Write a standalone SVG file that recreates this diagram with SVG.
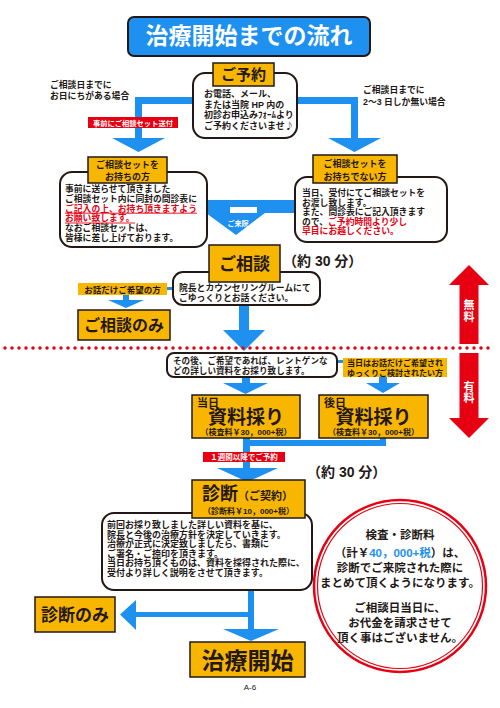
<svg xmlns="http://www.w3.org/2000/svg" width="500" height="708" viewBox="0 0 500 708">
<style>
.box{fill:#f9b600;stroke:#231815;stroke-width:1.5}
.lbl{fill:#f9b600}
.bub{fill:#fff;stroke:#231815;stroke-width:2}
.bl{fill:#1e90f0}
.rd{fill:#e60012}
.t{font-family:"Liberation Sans","Noto Sans CJK JP",sans-serif;font-weight:bold;fill:#231815}
.wt{fill:#fff}
.m{text-anchor:middle}
.rt{fill:#e60012}
.bt{fill:#1e90f0}
.cj{font-family:"Noto Sans CJK JP",sans-serif}
</style>
<rect width="500" height="708" fill="#fff"/>

<g id="connectors">
  <rect class="bl" x="135" y="97" width="60" height="7"/>
  <rect class="bl" x="135" y="97" width="7" height="42"/>
  <polygon class="bl" points="112,138 165,138 138.5,152"/>
  <rect class="bl" x="295" y="97" width="63" height="7"/>
  <rect class="bl" x="351" y="97" width="7" height="42"/>
  <polygon class="bl" points="328,138 381,138 354.5,152"/>
  <rect class="bl" x="207" y="200" width="88" height="13"/>
  <rect fill="#fff" x="230" y="207" width="27" height="6"/>
  <polygon class="bl" points="206,213 265,213 236,235"/>
  <rect class="bl" x="167" y="287" width="6" height="3"/>
  <rect class="bl" x="123" y="295" width="6" height="5"/>
  <polygon class="bl" points="108,300 144,300 126,308"/>
  <rect class="bl" x="239" y="305" width="10" height="26"/>
  <polygon class="bl" points="223,330 265,330 244,351"/>
  <rect class="bl" x="337" y="360" width="6" height="3"/>
  <rect class="bl" x="242" y="377" width="8" height="7"/>
  <polygon class="bl" points="223,383 268,383 245.5,394"/>
  <rect class="bl" x="379" y="377" width="8" height="7"/>
  <polygon class="bl" points="366,383 400,383 383,393"/>
  <rect class="bl" x="243" y="438" width="7" height="31"/>
  <rect class="bl" x="380" y="438" width="6" height="8"/>
  <rect class="bl" x="243" y="440" width="143" height="6"/>
  <polygon class="bl" points="217,468 278,468 247.5,482"/>
  <rect class="bl" x="248" y="590" width="6" height="40"/>
  <rect class="bl" x="135" y="612" width="119" height="5"/>
  <polygon class="bl" points="120,614.5 136,600 136,630"/>
  <polygon class="bl" points="223,629 279,629 251,641"/>
  <line x1="5" y1="348" x2="492" y2="348" stroke="#e60012" stroke-width="3.5" stroke-dasharray="0 7" stroke-linecap="round"/>
</g>

<g id="title">
  <rect x="128" y="17" width="242" height="39" rx="6" fill="#1e90f0" stroke="#231815" stroke-width="2"/>
  <text class="t m wt" x="249" y="44" font-size="23">治療開始までの流れ</text>
</g>

<g id="note-left">
  <text class="t" font-size="8.8"><tspan x="50" y="88">ご相談日までに</tspan><tspan x="50" y="99">お日にちがある場合</tspan></text>
</g>
<g id="note-right">
  <text class="t" font-size="8.8"><tspan x="363" y="93">ご相談日までに</tspan><tspan x="363" y="105">2～3 日しか無い場合</tspan></text>
</g>

<g id="send-set">
  <rect class="rd" x="88" y="117" width="90" height="11"/>
  <text class="t m wt" x="133" y="125.5" font-size="7.3">事前にご相談セット送付</text>
</g>

<g id="reservation">
  <rect class="bub" x="193" y="73" width="104" height="65" rx="12"/>
  <rect class="box" x="213" y="63" width="61" height="23"/>
  <text class="t m" x="243.5" y="80" font-size="15">ご予約</text>
  <text class="t" font-size="9"><tspan x="204" y="97">お電話、メール、</tspan><tspan x="204" y="107.5">または当院 HP 内の</tspan><tspan x="204" y="118">初診お申込みﾌｫｰﾑより</tspan><tspan x="204" y="128.5">ご予約くださいませ</tspan><tspan class="cj">♪</tspan></text>
</g>

<g id="with-set">
  <rect class="bub" x="60" y="172" width="147" height="75" rx="12"/>
  <rect class="box" x="88" y="157" width="79" height="26"/>
  <text class="t m" font-size="9"><tspan x="127.5" y="168">ご相談セットを</tspan><tspan x="127.5" y="180">お持ちの方</tspan></text>
  <text class="t" font-size="8.8"><tspan x="65" y="192">事前に送らせて頂きました</tspan><tspan x="65" y="201.8">ご相談セット内に同封の問診表に</tspan><tspan x="65" y="211.6" class="rt">ご記入の上、お持ち頂きますよう</tspan><tspan x="65" y="221.4" class="rt">お願い致します。</tspan><tspan x="65" y="231.2">なおご相談セットは、</tspan><tspan x="65" y="241">皆様に差し上げております。</tspan></text>
  <line x1="65" y1="213.2" x2="197" y2="213.2" stroke="#e60012" stroke-width="0.9"/>
  <line x1="65" y1="223" x2="135" y2="223" stroke="#e60012" stroke-width="0.9"/>
</g>

<g id="without-set">
  <rect class="bub" x="295" y="177" width="152" height="65" rx="12"/>
  <rect class="box" x="313" y="155" width="84" height="28"/>
  <text class="t m" font-size="9"><tspan x="355" y="167">ご相談セットを</tspan><tspan x="355" y="180">お持ちでない方</tspan></text>
  <text class="t" font-size="8.8"><tspan x="302" y="196">当日、受付にてご相談セットを</tspan><tspan x="302" y="205.5">お渡し致します。</tspan><tspan x="302" y="215">また、問診表にご記入頂きます</tspan><tspan x="302" y="224.5">ので、</tspan><tspan class="rt">ご予約時間より少し</tspan><tspan x="302" y="234" class="rt">早目にお越しください。</tspan></text>
</g>

<g id="visit-label">
  <text class="t m wt" x="238" y="226" font-size="7">ご来院</text>
</g>

<g id="consultation">
  <rect class="bub" x="173" y="272" width="147" height="33" rx="10"/>
  <rect class="box" x="209" y="245" width="71" height="37"/>
  <text class="t m" x="244.5" y="270" font-size="17">ご相談</text>
  <text class="t" font-size="8.8"><tspan x="179" y="291">院長とカウンセリングルームにて</tspan><tspan x="179" y="301">ごゆっくりとお話ください。</tspan></text>
  <text class="t" x="283" y="266" font-size="14">（約 30 分）</text>
</g>

<g id="talk-only-label">
  <rect class="lbl" x="78" y="283" width="89" height="12"/>
  <text class="t m" x="122.5" y="292.5" font-size="8.5">お話だけご希望の方</text>
</g>

<g id="consult-only">
  <rect class="box" x="78" y="310" width="92" height="30"/>
  <text class="t m" x="124" y="331" font-size="16">ご相談のみ</text>
</g>

<g id="free-paid">
  <polygon class="rd" points="469,265 489,285 478.5,285 478.5,344 459.5,344 459.5,285 449,285"/>
  <polygon class="rd" points="469,438 489,418 478.5,418 478.5,353 459.5,353 459.5,418 449,418"/>
  <text class="t wt m" x="469 469" y="309 321" font-size="11">無料</text>
  <text class="t wt m" x="469 469" y="391 402" font-size="11">有料</text>
</g>

<g id="xray">
  <rect class="bub" x="167" y="353" width="170" height="24" rx="7"/>
  <text class="t" font-size="8.6"><tspan x="173" y="364">その後、ご希望であれば、レントゲンな</tspan><tspan x="173" y="374">どの詳しい資料をお採り致します。</tspan></text>
</g>

<g id="later-label">
  <rect class="lbl" x="343" y="358" width="104" height="19"/>
  <text class="t m" font-size="8"><tspan x="395" y="366">当日はお話だけご希望され</tspan><tspan x="395" y="375.5">ゆっくりご検討されたい方</tspan></text>
</g>

<g id="same-day">
  <rect class="box" x="192" y="395" width="108" height="43"/>
  <text class="t"><tspan x="197" y="407" font-size="11">当日</tspan><tspan x="246" y="424" font-size="19" text-anchor="middle">資料採り</tspan><tspan x="246" y="435" font-size="8" text-anchor="middle">（検査料￥30，000+税）</tspan></text>
</g>

<g id="later-day">
  <rect class="box" x="319" y="395" width="109" height="43"/>
  <text class="t"><tspan x="324" y="407" font-size="11">後日</tspan><tspan x="373.5" y="424" font-size="19" text-anchor="middle">資料採り</tspan><tspan x="373.5" y="435" font-size="8" text-anchor="middle">（検査料￥30，000+税）</tspan></text>
</g>

<g id="week-label">
  <rect class="rd" x="203" y="452" width="82" height="10"/>
  <text class="t m wt" x="244" y="460" font-size="7.5">１週間以降でご予約</text>
  <text class="t" x="307" y="477" font-size="14">（約 30 分）</text>
</g>

<g id="diagnosis">
  <rect class="bub" x="102" y="513" width="210" height="77" rx="12"/>
  <rect class="box" x="192" y="480" width="113" height="38"/>
  <text class="t"><tspan x="202" y="500" font-size="18">診断</tspan><tspan font-size="11">（ご契約）</tspan><tspan x="248.5" y="514" font-size="8" text-anchor="middle">（診断料￥10，000+税）</tspan></text>
  <text class="t" font-size="9"><tspan x="107" y="528">前回お採り致しました詳しい資料を基に、</tspan><tspan x="107" y="537.6">院長と今後の治療方針を決定していきます。</tspan><tspan x="107" y="547.2">治療が正式に決定致しましたら、書類に</tspan><tspan x="107" y="556.8">ご署名・ご捺印を頂きます。</tspan><tspan x="107" y="566.4">当日お持ち頂くものは、資料を採得された際に、</tspan><tspan x="107" y="576">受付より詳しく説明をさせて頂きます。</tspan></text>
</g>

<g id="fee-note">
  <circle cx="400" cy="586" r="86" fill="#fff" stroke="#e60012" stroke-width="2.5"/>
  <circle cx="400" cy="586" r="82.5" fill="none" stroke="#e60012" stroke-width="1.2"/>
  <text class="t m" font-size="11.5"><tspan x="400" y="539">検査・診断料</tspan><tspan x="400" y="557">（計￥</tspan><tspan class="bt">40，000+税</tspan><tspan>）は、</tspan><tspan x="400" y="572">診断でご来院された際に</tspan><tspan x="400" y="587">まとめて頂くようになります。</tspan><tspan x="400" y="612">ご相談日当日に、</tspan><tspan x="400" y="627">お代金を請求させて</tspan><tspan x="400" y="642">頂く事はございません。</tspan></text>
</g>

<g id="diag-only">
  <rect class="box" x="35" y="597" width="80" height="35"/>
  <text class="t m" x="75" y="621" font-size="17">診断のみ</text>
</g>

<g id="treatment">
  <rect class="box" x="190" y="642" width="115" height="35"/>
  <text class="t m" x="247.5" y="669" font-size="23">治療開始</text>
</g>

<g id="page">
  <text x="250" y="690" font-family="Liberation Sans, sans-serif" font-size="8" text-anchor="middle" fill="#231815">A-6</text>
</g>
</svg>
